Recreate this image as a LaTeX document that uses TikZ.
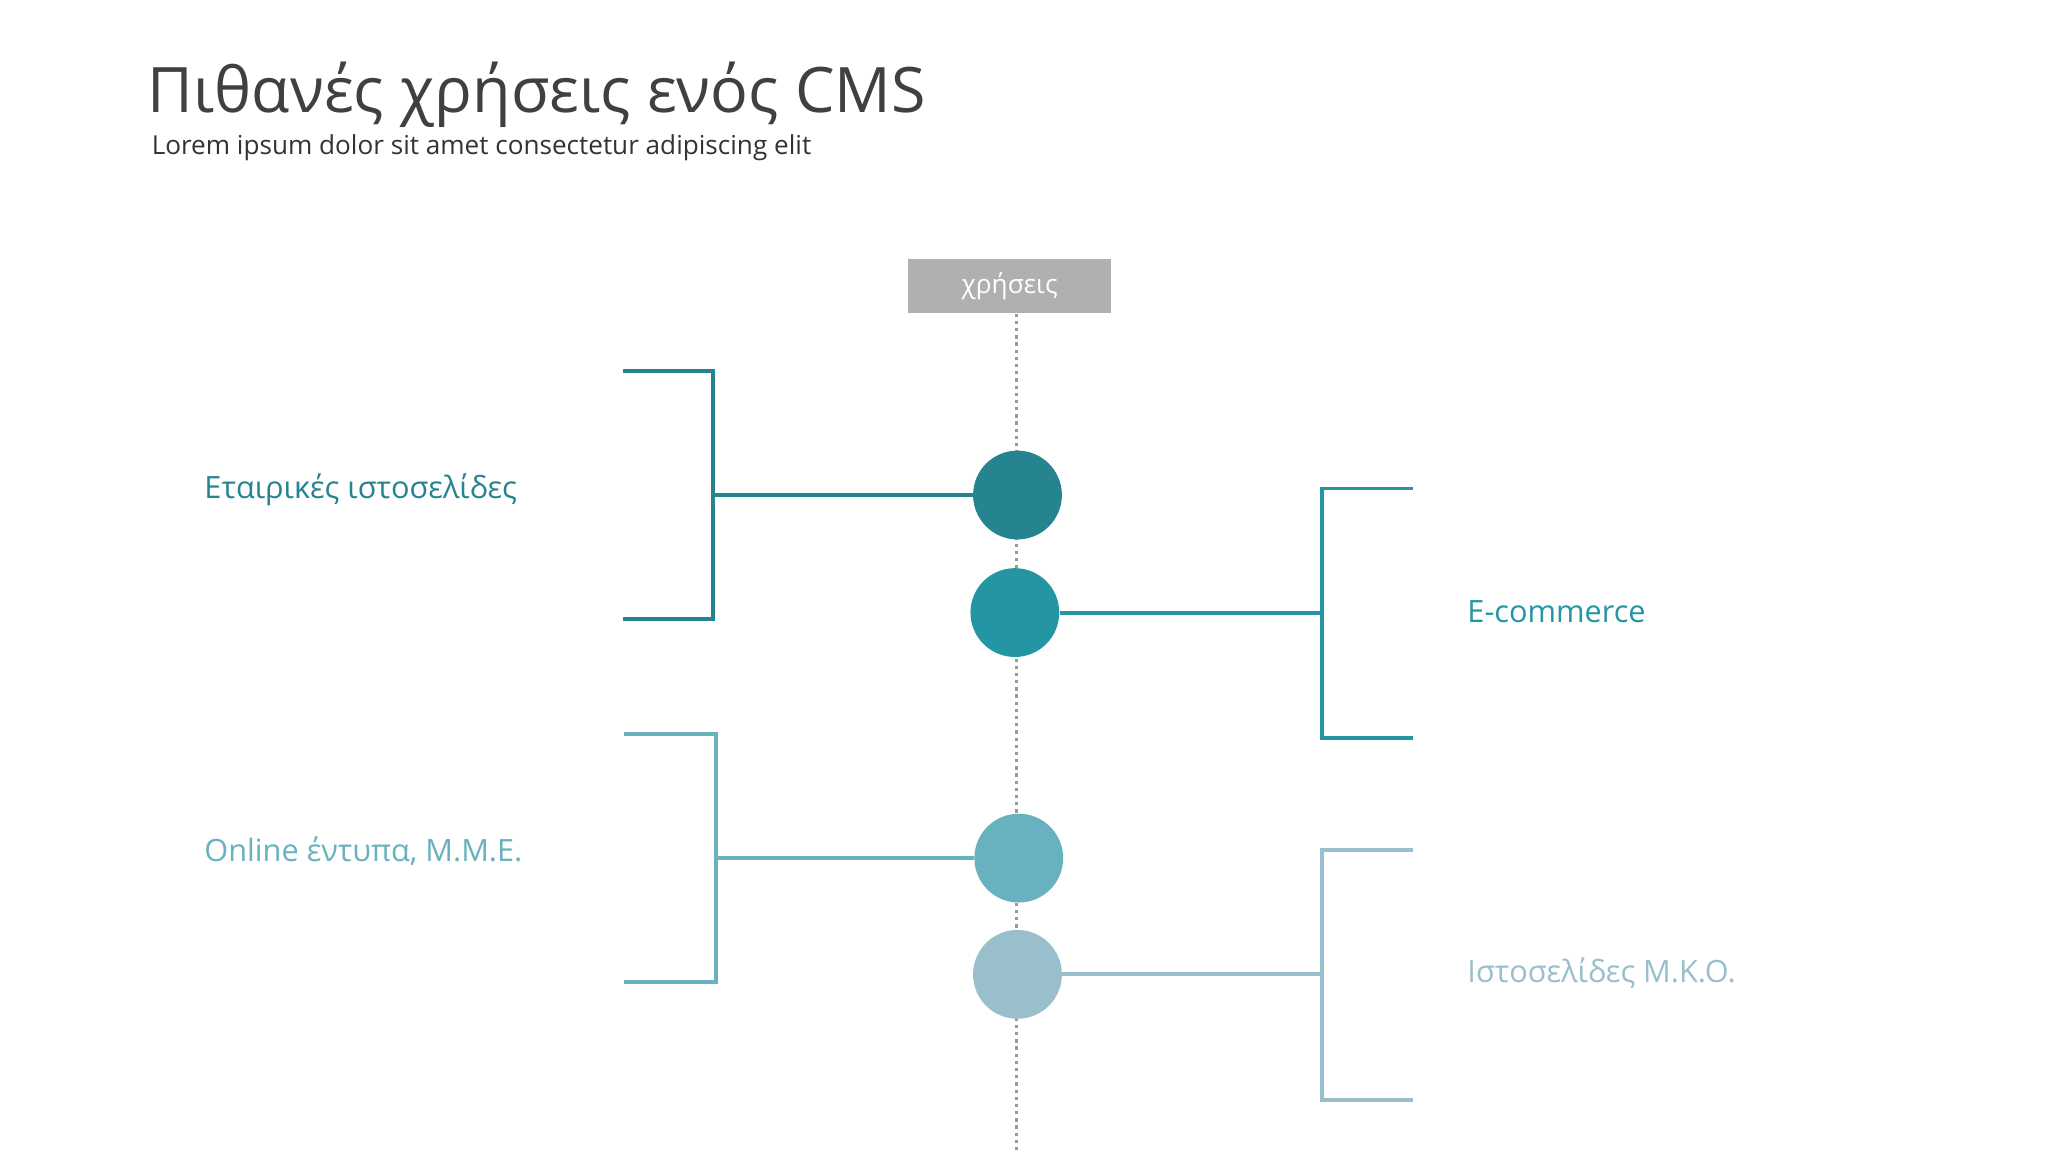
\documentclass[tikz,border=0pt]{standalone}
\usepackage{fontspec}
\setmainfont{Open Sans}
\begin{document}
\begin{tikzpicture}[x=1pt,y=-1pt,
  br/.style={line width=3pt},
  lab/.style={anchor=west,font=\fontsize{23.5}{28}\selectfont},
  dot/.style={circle,minimum size=68pt,inner sep=0pt}]
\definecolor{c1}{HTML}{25848F}\definecolor{c2}{HTML}{2496A3}
\definecolor{c3}{HTML}{68B1BE}\definecolor{c4}{HTML}{98BFCB}
\useasboundingbox[fill=white] (0,0) rectangle (1568,882);
\node[anchor=base west,inner sep=0,text=black!75,font=\fontsize{48}{56}\selectfont] (t) at (113,86) {Πιθανές χρήσεις ενός CMS};
\node[anchor=west,inner sep=0,text=black!80,font=\fontsize{20}{24}\selectfont] (s) at (116,113) {Lorem ipsum dolor sit amet consectetur adipiscing elit};
\node[fill=black!31,text=white,minimum width=155pt,minimum height=42pt,inner sep=0,font=\fontsize{20}{24}\selectfont] (h) at (773,219) {χρήσεις};
\coordinate (e) at (778,882);
\draw[black!40,line width=2.5pt,dash pattern=on 2.5pt off 3pt] (h.south -| e) -- (e);
\node[dot,fill=c1] (d1) at (779,379) {};
\node[dot,fill=c2] (d2) at (777,469) {};
\node[dot,fill=c3] (d3) at (780,657) {};
\node[dot,fill=c4] (d4) at (779,746) {};
\draw[br,c1] (477,284) -- (546,284) -- (546,474) -- (477,474);
\coordinate (j1) at (546,379); \draw[br,c1] (j1) -- (d1);
\draw[br,c2] (1082,374) -- (1012,374) -- (1012,565) -- (1082,565);
\coordinate (j2) at (1012,469); \draw[br,c2] (d2) -- (j2);
\draw[br,c3] (478,562) -- (548,562) -- (548,752) -- (478,752);
\coordinate (j3) at (548,657); \draw[br,c3] (j3) -- (d3);
\draw[br,c4] (1082,651) -- (1012,651) -- (1012,842) -- (1082,842);
\coordinate (j4) at (1012,746); \draw[br,c4] (d4) -- (j4);
\node[lab,text=c1] (l1) at (153,375) {Εταιρικές ιστοσελίδες};
\node[lab,text=c2] (l2) at (1120,468) {E-commerce};
\node[lab,text=c3] (l3) at (153,652) {Online έντυπα, Μ.Μ.Ε.};
\node[lab,text=c4] (l4) at (1120,745) {Ιστοσελίδες Μ.Κ.Ο.};
\end{tikzpicture}
\end{document}
